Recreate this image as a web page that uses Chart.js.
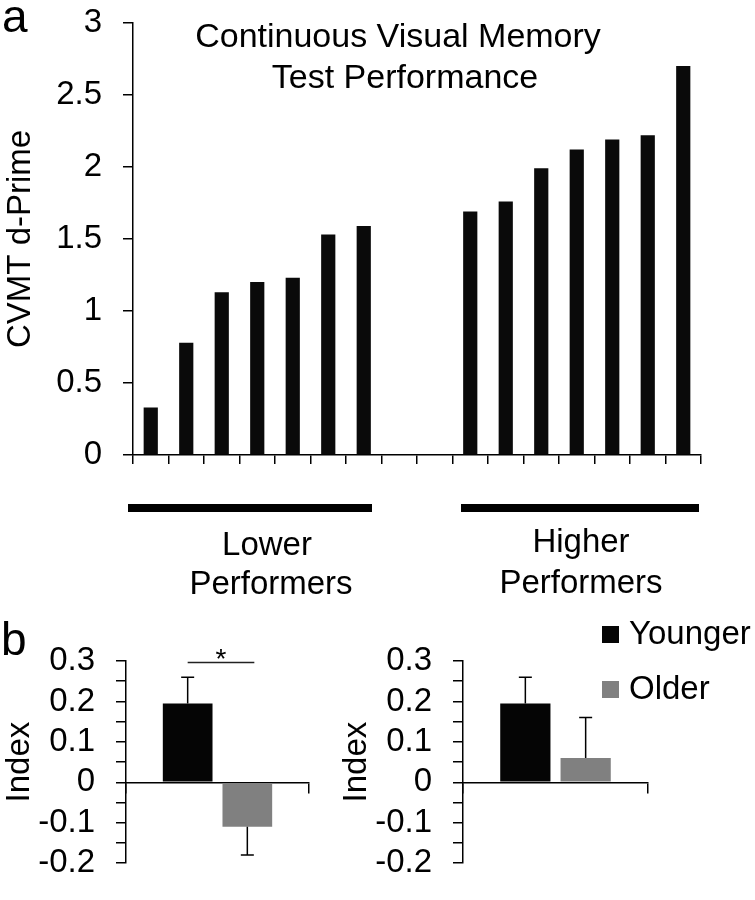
<!DOCTYPE html>
<html>
<head>
<meta charset="utf-8">
<script src="https://cdn.jsdelivr.net/npm/chart.js@4"></script>
<style>
  html, body { margin: 0; padding: 0; background: #fff; }
  #page { position: relative; width: 755px; height: 900px; overflow: hidden; }
  canvas { position: absolute; }
</style>
</head>
<body>
<div id="page">
  <canvas id="cvmt" width="755" height="620" style="left:0;top:-18px"></canvas>
  <canvas id="idxLower" width="330" height="304" style="left:0;top:600px"></canvas>
  <canvas id="idxHigher" width="418" height="304" style="left:337px;top:600px"></canvas>
</div>
<script>
const FONT = "'Liberation Sans', Arial, Helvetica, sans-serif";
const TXT = 33; // most labels in the figure share this size
Chart.defaults.font.family = FONT;
Chart.defaults.color = '#000';

// panel a: one bar per participant, two empty slots between the groups
const participants = ['L1', 'L2', 'L3', 'L4', 'L5', 'L6', 'L7', '', ' ',
  'H1', 'H2', 'H3', 'H4', 'H5', 'H6', 'H7'];
const dPrime = [0.33, 0.78, 1.13, 1.20, 1.23, 1.53, 1.59, null, null,
  1.69, 1.76, 1.99, 2.12, 2.19, 2.22, 2.70];
const titleLines = ['Continuous Visual Memory', 'Test Performance'];

// panel b: index per age group (lower / higher performers)
const groups = ['Younger', 'Older'];
const groupColors = ['#050505', '#808080'];
const lowerIndex = [0.195, -0.11];
const lowerErr = [0.065, 0.07];
const higherIndex = [0.195, 0.06];
const higherErr = [0.065, 0.10];
const sigLevel = 0.296;

const axisLine = { display: true, color: '#000', width: 1.5 };
const tickMarks = (len) => ({ display: true, drawOnChartArea: false, drawTicks: true,
  tickLength: len, color: '#000', lineWidth: 1.5 });

const panelADecor = {
  id: 'panelADecor',
  afterDraw(chart) {
    const ctx = chart.ctx;
    ctx.save();
    ctx.translate(0, 18); // canvas sits 18px above the page
    ctx.fillStyle = '#000';
    ctx.textBaseline = 'alphabetic';
    ctx.textAlign = 'left';
    ctx.font = `46px ${FONT}`;
    ctx.fillText('a', 2, 32);
    ctx.textAlign = 'center';
    ctx.font = `34px ${FONT}`;
    ctx.fillText(titleLines[0], 398, 47);
    ctx.fillText(titleLines[1], 405, 88);
    // group brackets under the axis
    ctx.fillRect(128, 504, 244, 8);
    ctx.fillRect(461, 504, 238, 8);
    ctx.font = `${TXT}px ${FONT}`;
    ctx.fillText('Lower', 267, 555);
    ctx.fillText('Performers', 271, 594);
    ctx.fillText('Higher', 581, 552);
    ctx.fillText('Performers', 581, 593);
    ctx.restore();
  }
};

new Chart(document.getElementById('cvmt'), {
  type: 'bar',
  data: {
    labels: participants,
    datasets: [{
      label: 'CVMT d-Prime',
      data: dPrime,
      backgroundColor: '#0a0a0a',
      barPercentage: 0.4,
      categoryPercentage: 1
    }]
  },
  options: {
    responsive: false,
    animation: false,
    devicePixelRatio: 1,
    layout: { padding: { top: 30, right: 54, left: 0, bottom: 0 } },
    plugins: { legend: { display: false }, tooltip: { enabled: false } },
    scales: {
      x: {
        grid: tickMarks(9),
        border: axisLine,
        ticks: { display: false },
        afterFit: (s) => { s.height = 147; }
      },
      y: {
        min: 0,
        max: 3,
        ticks: { stepSize: 0.5, padding: 21, autoSkip: false, font: { size: TXT },
          callback: (v) => String(v) },
        grid: tickMarks(10),
        border: axisLine,
        title: { display: true, text: 'CVMT d-Prime', font: { size: TXT },
          padding: { top: 1, bottom: 0 } },
        afterFit: (s) => { s.width = 133; }
      }
    }
  },
  plugins: [panelADecor]
});

const indexDecor = {
  id: 'indexDecor',
  afterDatasetsDraw(chart, args, opts) {
    const { ctx, scales: { y } } = chart;
    ctx.save();
    ctx.strokeStyle = '#000';
    ctx.fillStyle = '#000';
    ctx.lineWidth = 1.5;
    // one-sided error bars
    chart.data.datasets.forEach((ds, i) => {
      const bar = chart.getDatasetMeta(i).data[0];
      const v = ds.data[0];
      const end = v + Math.sign(v) * opts.errors[i];
      const y0 = y.getPixelForValue(v);
      const y1 = y.getPixelForValue(end);
      ctx.beginPath();
      ctx.moveTo(bar.x, y0);
      ctx.lineTo(bar.x, y1);
      ctx.moveTo(bar.x - 6.5, y1);
      ctx.lineTo(bar.x + 6.5, y1);
      ctx.stroke();
    });
    if (opts.panelLetter) {
      ctx.font = `46px ${FONT}`;
      ctx.textAlign = 'left';
      ctx.fillText('b', 1, 55);
    }
    if (opts.significance) {
      const b0 = chart.getDatasetMeta(0).data[0];
      const b1 = chart.getDatasetMeta(1).data[0];
      const ys = y.getPixelForValue(sigLevel);
      const x0 = b0.x, x1 = b1.x + 7;
      ctx.strokeStyle = '#222';
      ctx.beginPath();
      ctx.moveTo(x0, ys);
      ctx.lineTo(x1, ys);
      ctx.stroke();
      ctx.font = `28px ${FONT}`;
      ctx.textAlign = 'center';
      ctx.fillText('*', (x0 + x1) / 2, ys + 5);
    }
    if (opts.legend) {
      ctx.font = `${TXT}px ${FONT}`;
      ctx.textAlign = 'left';
      groups.forEach((g, i) => {
        const top = i === 0 ? 26 : 81;
        ctx.fillStyle = groupColors[i];
        ctx.fillRect(265, top, 17, 17);
        ctx.fillStyle = '#000';
        ctx.fillText(g, 292, top + 18);
      });
    }
    ctx.restore();
  }
};

function indexChart(id, values, errors, extra, padRight) {
  return new Chart(document.getElementById(id), {
    type: 'bar',
    data: {
      labels: [''],
      datasets: groups.map((g, i) => ({
        label: g,
        data: [values[i]],
        backgroundColor: groupColors[i],
        barPercentage: 0.833,
        categoryPercentage: 0.652
      }))
    },
    options: {
      responsive: false,
      animation: false,
      devicePixelRatio: 1,
      layout: { padding: { top: 61, right: padRight, left: 0, bottom: 20 } },
      plugins: {
        legend: { display: false },
        tooltip: { enabled: false },
        indexDecor: Object.assign({ errors: errors }, extra)
      },
      scales: {
        x: {
          position: { y: 0 },
          grid: tickMarks(10),
          border: axisLine,
          ticks: { display: false }
        },
        y: {
          min: -0.2,
          max: 0.3,
          ticks: {
            stepSize: 0.05, padding: 21, autoSkip: false, font: { size: TXT },
            callback: (v) => {
              const r = Math.round(v * 100);
              return r % 10 === 0 ? String(r / 100) : '';
            }
          },
          grid: tickMarks(10),
          border: axisLine,
          title: { display: true, text: 'Index', font: { size: TXT }, padding: 0 },
          afterFit: (s) => { s.width = 126; }
        }
      }
    },
    plugins: [indexDecor]
  });
}

indexChart('idxLower', lowerIndex, lowerErr, { panelLetter: true, significance: true }, 21);
indexChart('idxHigher', higherIndex, higherErr, { legend: true }, 107);
</script>
</body>
</html>
